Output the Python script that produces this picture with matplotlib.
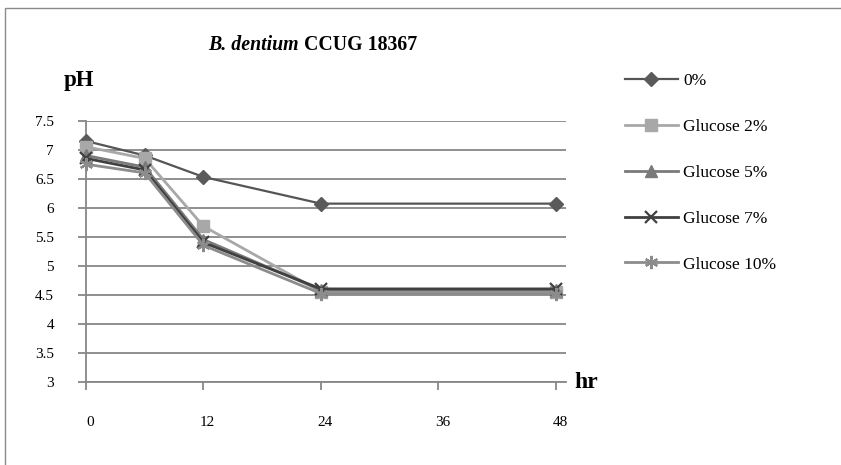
import matplotlib
matplotlib.use("Agg")
import matplotlib.pyplot as plt
import matplotlib.transforms as mtransforms
from matplotlib.patches import Rectangle

# Sampling times (hours) and pH readings for each glucose level
hours = [0, 6, 12, 24, 48]
ph_0 = [7.15, 6.90, 6.53, 6.07, 6.07]
ph_glc2 = [7.05, 6.85, 5.68, 4.55, 4.55]
ph_glc5 = [6.90, 6.70, 5.45, 4.58, 4.58]
ph_glc7 = [6.85, 6.65, 5.40, 4.60, 4.60]
ph_glc10 = [6.75, 6.60, 5.35, 4.52, 4.52]

series_labels = ["0%", "Glucose 2%", "Glucose 5%", "Glucose 7%", "Glucose 10%"]
x_ticks = [0, 12, 24, 36, 48]
y_ticks = [3, 3.5, 4, 4.5, 5, 5.5, 6, 6.5, 7, 7.5]

W, H = 841, 465
fig = plt.figure(figsize=(W / 100, H / 100), dpi=100)
plt.rcParams["font.family"] = ["Liberation Serif", "DejaVu Serif"]

# plot area in pixel coordinates
left_px, right_px, top_px, bottom_px = 86, 566, 120.7, 381.7
ax = fig.add_axes([left_px / W, 1 - bottom_px / H,
                   (right_px - left_px) / W, (bottom_px - top_px) / H])

grid_col = "#878787"
styles = [
    dict(color="#555555", marker="D", ms=7.5, lw=1.6, mfc="#5a5a5a", mec="#5a5a5a"),
    dict(color="#a8a8a8", marker="s", ms=8.5, lw=2.0, mfc="#a8a8a8", mec="#a8a8a8"),
    dict(color="#7a7a7a", marker="^", ms=8.5, lw=2.0, mfc="#7a7a7a", mec="#7a7a7a"),
    dict(color="#404040", marker="x", ms=8.5, lw=2.0, mew=1.6, mec="#404040"),
    dict(color="#8c8c8c", marker=(6, 2, 0), ms=9.5, lw=2.0, mew=1.6, mec="#8c8c8c"),
]
all_series = [ph_0, ph_glc2, ph_glc5, ph_glc7, ph_glc10]
handles = []
for vals, lab, st in zip(all_series, series_labels, styles):
    h, = ax.plot(hours, vals, label=lab, zorder=3, clip_on=False, **st)
    handles.append(h)

ax.set_xlim(0, 48 * (right_px - left_px) / (556 - left_px))
ax.set_ylim(3, 7.5)
ax.set_xticks(x_ticks)
ax.set_yticks(y_ticks)
ax.set_yticklabels([f"{v:g}" for v in y_ticks])
ax.yaxis.grid(True, color=grid_col, lw=1.3)
ax.set_axisbelow(True)
for s in ["top", "right"]:
    ax.spines[s].set_visible(False)
for s in ["left", "bottom"]:
    ax.spines[s].set_color(grid_col)
    ax.spines[s].set_linewidth(1.3)
ax.tick_params(axis="both", colors=grid_col, width=1.3, length=6,
               labelcolor="black", labelsize=11)
ax.tick_params(axis="x", pad=19)
ax.tick_params(axis="y", pad=17)

# x tick labels sit a little to the right of their ticks
shift = mtransforms.ScaledTranslation(4 / 100, 0, fig.dpi_scale_trans)
for lbl in ax.get_xticklabels():
    lbl.set_transform(lbl.get_transform() + shift)

# axis captions
fig.text(64 / W, 1 - 80 / H, "pH", fontsize=16.5, fontweight="bold",
         va="center", ha="left")
fig.text(574 / W, 1 - 382 / H, "hr", fontsize=17, fontweight="bold",
         va="center", ha="left")

# title: italic species name followed by strain designation
renderer = fig.canvas.get_renderer()
t1 = fig.text(208 / W, 1 - 45 / H, "B. dentium", fontsize=14.3,
              fontweight="bold", fontstyle="italic", va="center", ha="left")
bb = t1.get_window_extent(renderer)
fig.text((bb.x1 + 5) / W, 1 - 45 / H, "CCUG 18367", fontsize=14.3,
         fontweight="bold", va="center", ha="left")

fig.legend(handles=handles, labels=series_labels, loc="upper left",
           bbox_to_anchor=(625 / W, 1 - 73 / H), frameon=False,
           fontsize=12.5, labelspacing=1.71, handlelength=3.05,
           handletextpad=0.3, borderpad=0, borderaxespad=0)

# outer chart frame
fig.patches.append(Rectangle((5 / W, -0.05), 1.05, 1 - 8 / H + 0.05,
                             transform=fig.transFigure, fill=False,
                             edgecolor="#8a8a8a", lw=1.0))

fig.savefig("out.png", dpi=100)
